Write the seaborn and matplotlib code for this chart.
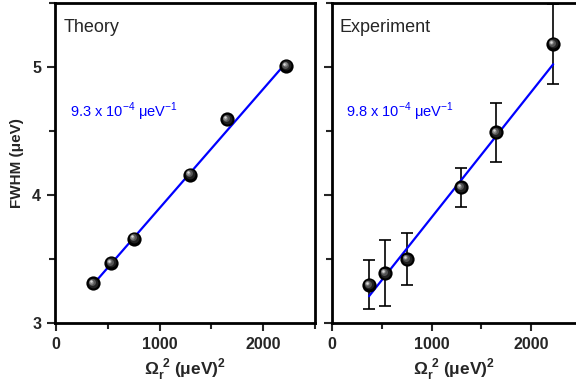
import numpy as np
import pandas as pd
import matplotlib
matplotlib.use("Agg")
import matplotlib.pyplot as plt
import matplotlib.transforms as mtransforms
from matplotlib.ticker import MultipleLocator
import seaborn as sns

# ---- data ----
theory_x = [357, 531, 754, 1295, 1652, 2222]
theory_y = [3.31, 3.47, 3.66, 4.16, 4.59, 5.01]
theory_slope = 9.3e-4
theory_intercept = 2.968

exp_x = [372, 533, 754, 1297, 1648, 2221]
exp_y = [3.30, 3.39, 3.50, 4.06, 4.49, 5.18]
exp_err = [0.19, 0.26, 0.20, 0.15, 0.23, 0.31]
exp_slope = 9.8e-4
exp_intercept = 2.845

panel_titles = ["Theory", "Experiment"]
slope_labels = ["9.3 x 10$^{\\mathregular{-4}}$ μeV$^{\\mathregular{-1}}$",
                "9.8 x 10$^{\\mathregular{-4}}$ μeV$^{\\mathregular{-1}}$"]
xlabel = "Ω$_{\\mathregular{r}}^{\\mathregular{\\ 2}}$ (μeV)$^{\\mathregular{2}}$"
ylabel = "FWHM (μeV)"

sns.set_theme(style="ticks")
plt.rcParams['font.family'] = ['Liberation Sans', 'DejaVu Sans']

fig = plt.figure(figsize=(5.76, 3.86), dpi=100)
ax1 = fig.add_axes([55/576, 1-323/386, 260/576, 320/386])
ax2 = fig.add_axes([332/576, 1-323/386, 244/576, 320/386])


def sphere(ax, x, y):
    df = pd.DataFrame({"x": x, "y": y})
    sns.scatterplot(data=df, x="x", y="y", ax=ax, s=105, color="black",
                    edgecolor="black", linewidth=0, zorder=5, legend=False)
    layers = [(50, "#202020", -0.5, 0.5), (25, "#555555", -1.1, 1.1),
              (10, "#8a8a8a", -1.7, 1.7), (3, "#d8d8d8", -2.1, 2.1)]
    for s, c, dx, dy in layers:
        tr = mtransforms.offset_copy(ax.transData, fig=fig, x=dx, y=dy, units='dots')
        ax.scatter(x, y, s=s, color=c, linewidth=0, zorder=6, transform=tr)


def fitline(ax, x, slope, intercept):
    xs = np.array([min(x), max(x)])
    df = pd.DataFrame({"x": xs, "y": intercept + slope * xs})
    sns.lineplot(data=df, x="x", y="y", ax=ax, color="#0000ff", lw=1.6, zorder=4)


# Theory
fitline(ax1, theory_x, theory_slope, theory_intercept)
sphere(ax1, theory_x, theory_y)

# Experiment
ax2.errorbar(exp_x, exp_y, yerr=exp_err, fmt="none", ecolor="black",
             elinewidth=1.2, capsize=4, capthick=1.2, zorder=3)
fitline(ax2, exp_x, exp_slope, exp_intercept)
sphere(ax2, exp_x, exp_y)

ax1.set_xlim(-10, 2500)
ax2.set_xlim(0, 2450)
for i, ax in enumerate([ax1, ax2]):
    ax.set_ylim(3, 5.5)
    ax.xaxis.set_major_locator(MultipleLocator(1000))
    ax.xaxis.set_minor_locator(MultipleLocator(500))
    ax.yaxis.set_major_locator(MultipleLocator(1))
    ax.yaxis.set_minor_locator(MultipleLocator(0.5))
    ax.tick_params(which="major", direction="out", length=6, width=1.5,
                   labelsize=11.5, pad=4)
    ax.tick_params(which="minor", direction="out", length=4, width=1.5)
    for sp in ax.spines.values():
        sp.set_linewidth(2)
        sp.set_color("black")
    for lab in ax.get_xticklabels() + ax.get_yticklabels():
        lab.set_fontweight("bold")
    ax.set_xlabel(xlabel, fontsize=12.5, fontweight="bold", labelpad=3)
    ax.text(0.032, 0.91, panel_titles[i], transform=ax.transAxes,
            fontsize=13, va="baseline", ha="left")
    ax.text(0.058, 0.645, slope_labels[i], transform=ax.transAxes,
            fontsize=10.5, color="#0000ff", va="baseline", ha="left")

ax1.set_ylabel(ylabel, fontsize=11, fontweight="bold", labelpad=6)
ax2.set_ylabel("")
ax2.tick_params(axis="y", labelleft=False)
ax2.spines["right"].set_visible(False)

fig.savefig("out.png", dpi=100)
